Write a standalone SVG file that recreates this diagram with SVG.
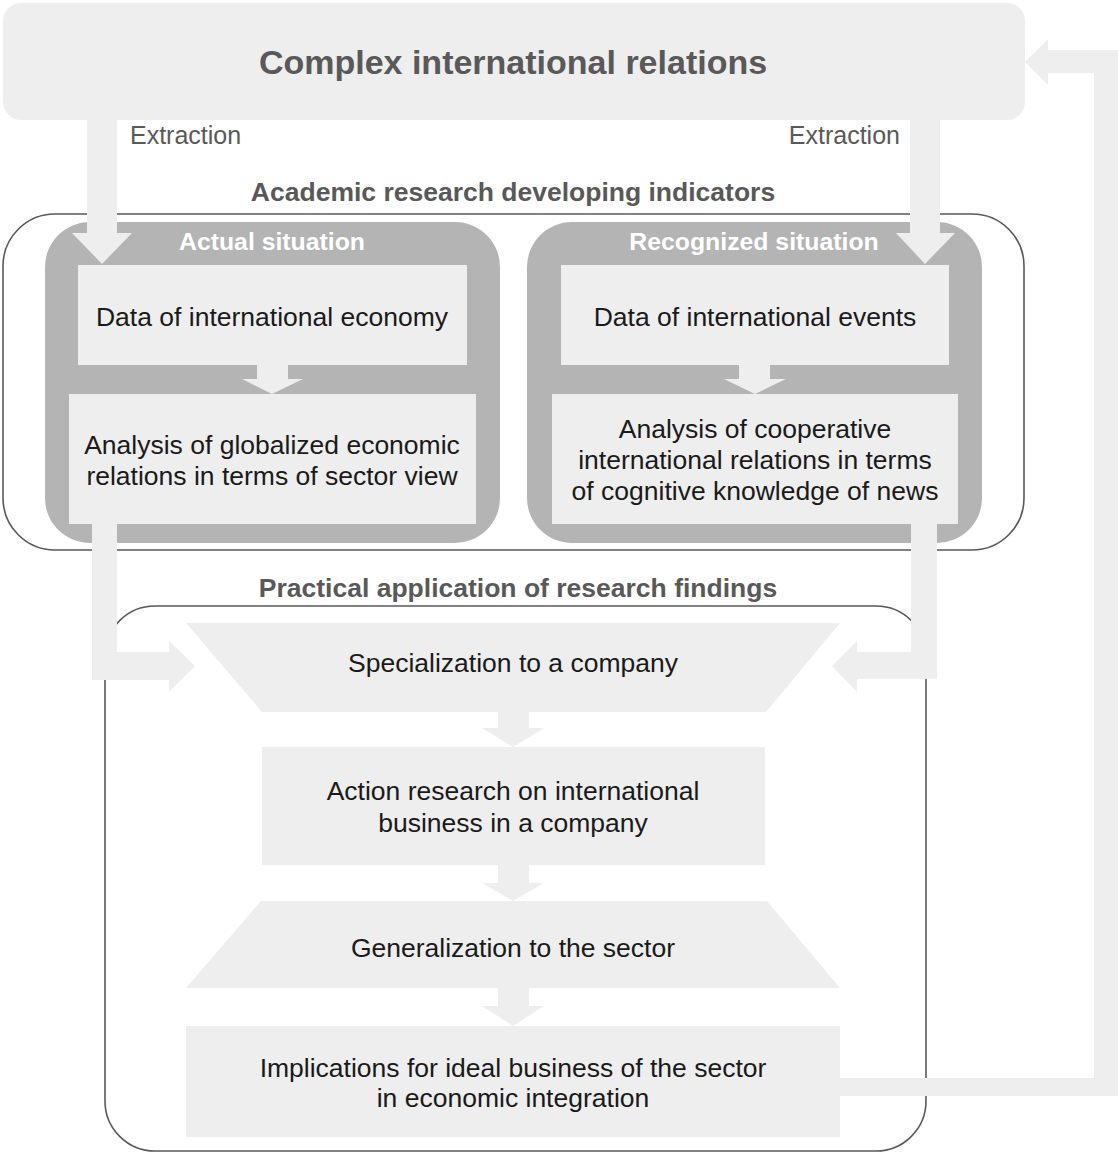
<svg xmlns="http://www.w3.org/2000/svg" width="1118" height="1153" viewBox="0 0 1118 1153">
<style>
.lt{fill:#eeeeee}
.panel{fill:#b4b4b4}
.frame{fill:none;stroke:#595959;stroke-width:1.6}
.arrow{fill:#eeeeee}
text{font-family:"Liberation Sans",Arial,sans-serif}
.title{font-size:34px;font-weight:bold;fill:#595959;text-anchor:middle}
.head{font-size:26.5px;font-weight:bold;fill:#595959;text-anchor:middle}
.sub{font-size:24.8px;font-weight:bold;fill:#ffffff;text-anchor:middle}
.lbl{font-size:25px;fill:#595959}
.node{font-size:26.5px;fill:#1a1a1a;text-anchor:middle}
</style>
<rect width="1118" height="1153" fill="#ffffff"/>
<g id="frames">
<rect class="frame" x="3" y="214" width="1021" height="336" rx="52"/>
<rect class="frame" x="105" y="606" width="821" height="545" rx="50"/>
<text class="head" x="513" y="201">Academic research developing indicators</text>
<text class="head" x="518" y="597">Practical application of research findings</text>
</g>
<g id="top">
<rect class="lt" x="3" y="3" width="1022" height="117" rx="18"/>
<text class="title" x="513" y="74">Complex international relations</text>
</g>
<g id="actual">
<rect class="panel" x="45" y="222" width="455" height="321" rx="45"/>
<text class="sub" x="272" y="250">Actual situation</text>
</g>
<g id="recognized">
<rect class="panel" x="527" y="222" width="455" height="321" rx="45"/>
<text class="sub" x="754" y="250">Recognized situation</text>
</g>
<g id="data-economy">
<rect class="lt" x="78" y="265" width="389" height="100"/>
<text class="node" x="272" y="326">Data of international economy</text>
</g>
<g id="analysis-economic">
<rect class="lt" x="69" y="394" width="407" height="130"/>
<text class="node" x="272" y="454">Analysis of globalized economic</text>
<text class="node" x="272" y="485">relations in terms of sector view</text>
</g>
<g id="data-events">
<rect class="lt" x="561" y="265" width="388" height="100"/>
<text class="node" x="755" y="326">Data of international events</text>
</g>
<g id="analysis-cooperative">
<rect class="lt" x="552" y="394" width="406" height="130"/>
<text class="node" x="755" y="438">Analysis of cooperative</text>
<text class="node" x="755" y="469">international relations in terms</text>
<text class="node" x="755" y="500">of cognitive knowledge of news</text>
</g>
<g id="specialization">
<polygon class="lt" points="186,623 840,623 766,712 262,712"/>
<text class="node" x="513" y="672">Specialization to a company</text>
</g>
<g id="action">
<rect class="lt" x="262" y="747" width="503" height="118"/>
<text class="node" x="513" y="800">Action research on international</text>
<text class="node" x="513" y="832">business in a company</text>
</g>
<g id="generalization">
<polygon class="lt" points="261,901 767,901 840,988 186,988"/>
<text class="node" x="513" y="957">Generalization to the sector</text>
</g>
<g id="implications">
<rect class="lt" x="186" y="1026" width="654" height="111"/>
<text class="node" x="513" y="1077">Implications for ideal business of the sector</text>
<text class="node" x="513" y="1107">in economic integration</text>
</g>
<g id="connectors">
<polygon class="arrow" points="87,118 117,118 117,233 132,233 102,264 72,233 87,233"/>
<polygon class="arrow" points="910,118 940,118 940,233 955,233 925,264 896,233 910,233"/>
<polygon class="arrow" points="257,364 288,364 288,379 303,379 272,394 242,379 257,379"/>
<polygon class="arrow" points="739,364 770,364 770,379 786,379 755,394 724,379 739,379"/>
<polygon class="arrow" points="92,523 117,523 117,652 169,652 169,641 195,666 169,692 169,680 92,680"/>
<polygon class="arrow" points="911,523 937,523 937,679 857,679 857,692 832,666 857,641 857,652 911,652"/>
<polygon class="arrow" points="498,711 529,711 529,728 544,728 513,747 482,728 498,728"/>
<polygon class="arrow" points="498,864 529,864 529,883 544,883 513,901 482,883 498,883"/>
<polygon class="arrow" points="498,987 529,987 529,1006 544,1006 513,1026 482,1006 498,1006"/>
<polygon class="arrow" points="839,1078 1094,1078 1094,73 1048,73 1048,85 1025,62 1048,39 1048,50 1118,50 1118,1096 839,1096"/>
<text class="lbl" x="130" y="144">Extraction</text>
<text class="lbl" x="900" y="144" text-anchor="end">Extraction</text>
</g>
</svg>
